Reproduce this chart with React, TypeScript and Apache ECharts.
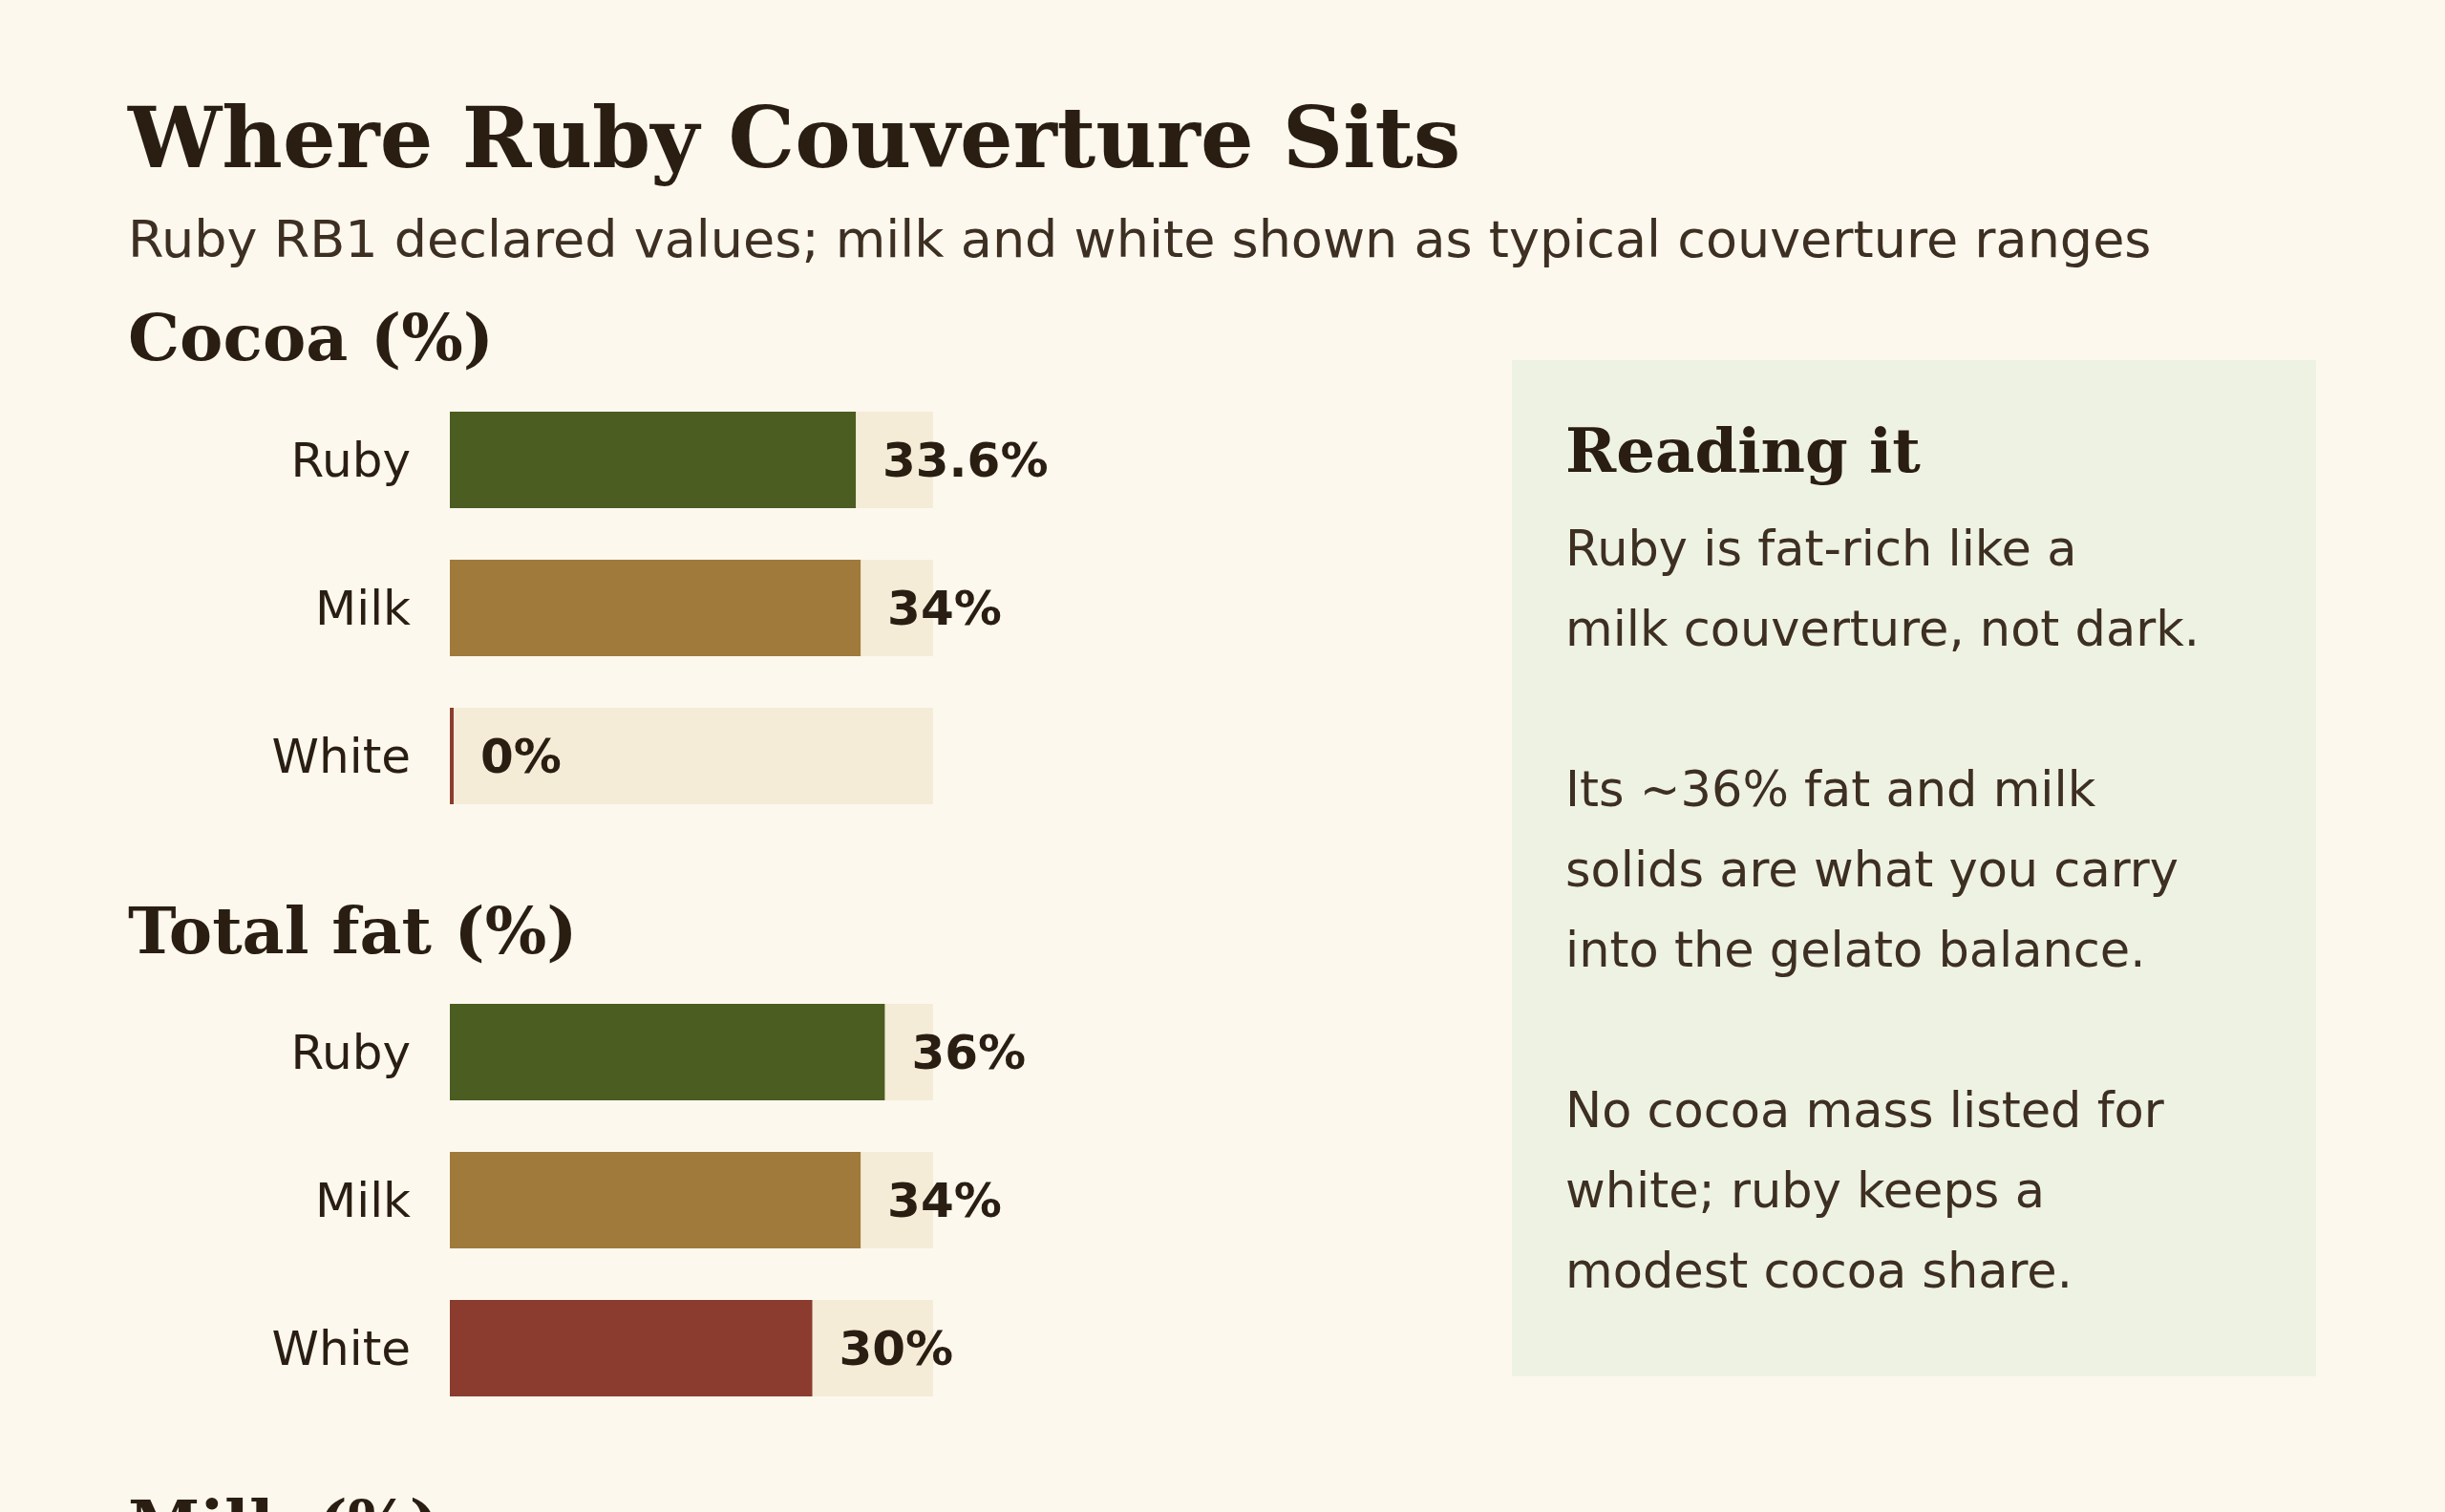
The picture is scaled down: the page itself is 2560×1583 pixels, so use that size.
import React, { useEffect, useRef } from "react";
import * as echarts from "echarts";

const categories = ["Ruby", "Milk", "White"];
const cocoaValues = [33.6, 34, 0];
const fatValues = [36, 34, 30];
const barColors = ["#4b5d20", "#a07a3a", "#8b3c2f"];
const sectionTitles = ["Cocoa (%)", "Total fat (%)", "Milk (%)"];
const axisMax = 40;
const chartTitle = "Where Ruby Couverture Sits";
const chartSubtitle = "Ruby RB1 declared values; milk and white shown as typical couverture ranges";
const noteTitle = "Reading it";
const noteLines = [
  "Ruby is fat-rich like a",
  "milk couverture, not dark.",
  "",
  "Its ~36% fat and milk",
  "solids are what you carry",
  "into the gelato balance.",
  "",
  "No cocoa mass listed for",
  "white; ruby keeps a",
  "modest cocoa share.",
];

const BG = "#fcf8ee";
const TRACK = "#f4ecd7";
const PANEL = "#eef2e3";
const INK = "#2a1e12";
const INK2 = "#3d2f22";
const SANS = "DejaVu Sans";
const SERIF = "DejaVu Serif";

export default function App() {
  const ref = useRef<HTMLDivElement>(null);
  useEffect(() => {
    document.body.style.margin = "0";
    document.body.style.background = BG;
    if (!ref.current) return;
    const chart = echarts.init(ref.current, undefined, { renderer: "svg" });
    const sections = [cocoaValues, fatValues];
    const sectionStep = 620;
    const gridTop = 404;
    const grids = sections.map((_, i) => ({
      left: 471,
      width: 506,
      top: gridTop + i * sectionStep,
      height: 465,
    }));
    const xAxes = sections.map((_, i) => ({
      type: "value",
      gridIndex: i,
      min: 0,
      max: axisMax,
      show: false,
    }));
    const yAxes = sections.map((_, i) => ({
      type: "category",
      gridIndex: i,
      data: categories,
      inverse: true,
      axisLine: { show: false },
      axisTick: { show: false },
      splitLine: { show: false },
      axisLabel: {
        fontFamily: SANS,
        fontSize: 50,
        color: INK,
        margin: 41,
      },
    }));
    const series = sections.map((vals, i) => ({
      type: "bar",
      xAxisIndex: i,
      yAxisIndex: i,
      barWidth: 101,
      barMinHeight: 4,
      showBackground: true,
      backgroundStyle: { color: TRACK },
      data: vals.map((v, j) => ({ value: v, itemStyle: { color: barColors[j] } })),
      label: {
        show: true,
        position: "right",
        distance: 28,
        fontFamily: SANS,
        fontWeight: "bold",
        fontSize: 50,
        color: INK,
        formatter: (p: any) => `${p.value}%`,
      },
    }));
    const mid = (baseline: number, fs: number) => baseline - 0.346 * fs;
    const bodyFs = 51;
    const graphic: any[] = [
      {
        type: "text",
        x: 134,
        y: mid(175, 87.5),
        style: { text: chartTitle, fontFamily: SERIF, fontWeight: "bold", fontSize: 87.5, fill: INK, verticalAlign: "middle" },
      },
      {
        type: "text",
        x: 134,
        y: mid(269, 54),
        style: { text: chartSubtitle, fontFamily: SANS, fontSize: 54, fill: INK2, verticalAlign: "middle" },
      },
      ...sectionTitles.map((t, i) => ({
        type: "text",
        x: 134,
        y: mid(377 + i * 621, 68),
        style: { text: t, fontFamily: SERIF, fontWeight: "bold", fontSize: 68, fill: INK, verticalAlign: "middle" },
      })),
      {
        type: "rect",
        shape: { x: 1583, y: 377, width: 842, height: 1064 },
        style: { fill: PANEL },
      },
      {
        type: "text",
        x: 1639,
        y: mid(494, 64),
        style: { text: noteTitle, fontFamily: SERIF, fontWeight: "bold", fontSize: 64, fill: INK, verticalAlign: "middle" },
      },
      {
        type: "text",
        x: 1639,
        y: 592 - 0.346 * bodyFs - 42,
        style: {
          text: noteLines.join("\n"),
          fontFamily: SANS,
          fontSize: bodyFs,
          lineHeight: 84,
          fill: INK2,
          verticalAlign: "top",
        },
      },
    ];
    chart.setOption({
      animation: false,
      backgroundColor: BG,
      grid: grids,
      xAxis: xAxes,
      yAxis: yAxes,
      series,
      graphic,
    } as any);
    return () => chart.dispose();
  }, []);
  return (
    <div
      ref={ref}
      style={{ position: "absolute", left: 0, top: 0, width: 2560, height: 1583, overflow: "hidden" }}
    />
  );
}
